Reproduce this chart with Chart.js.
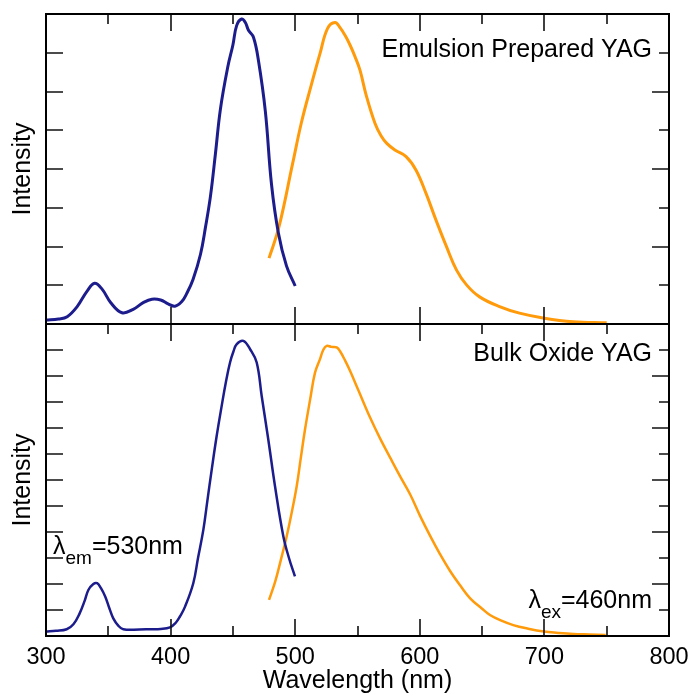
<!DOCTYPE html>
<html>
<head>
<meta charset="utf-8">
<script src="https://cdn.jsdelivr.net/npm/chart.js@4/dist/chart.umd.min.js"></script>
<style>
  html, body { margin: 0; padding: 0; background: #fff; }
  #wrap { position: relative; width: 692px; height: 697px; }
  #top { position: absolute; left: 0; top: 0; }
  #bottom { position: absolute; left: 0; top: 314px; }
</style>
</head>
<body>
<div id="wrap">
  <canvas id="top" width="692" height="330"></canvas>
  <canvas id="bottom" width="692" height="383"></canvas>
</div>
<script>
// emulsion prepared YAG (top panel)
const emulExWl = [300, 310, 317, 325, 333, 339, 345, 352, 361, 370, 378, 385, 392, 398, 403.5, 409, 413, 418, 424, 428, 432, 436, 440, 446, 450, 453, 457, 460, 462.5, 466.5, 470.5, 476, 481, 486.5, 493, 500]
const emulExVal = [0.10, 0.13, 0.19, 0.45, 0.85, 1.05, 0.90, 0.55, 0.29, 0.38, 0.55, 0.64, 0.62, 0.52, 0.46, 0.58, 0.79, 1.15, 1.80, 2.5, 3.3, 4.4, 5.55, 6.65, 7.2, 7.7, 7.87, 7.78, 7.58, 7.40, 6.8, 5.5, 3.6, 2.35, 1.5, 0.98]
const emulEmWl = [479, 487, 498, 505, 512.5, 520, 526, 532, 536, 540, 544, 548, 552, 557, 564, 569, 573.5, 580, 589, 597, 605, 613, 621.5, 629.5, 637.5, 648, 664, 680, 700, 723, 750]
const emulEmVal = [1.70, 2.51, 4.15, 5.2, 6.12, 6.99, 7.63, 7.78, 7.65, 7.45, 7.2, 6.9, 6.55, 5.9, 5.18, 4.85, 4.66, 4.49, 4.32, 3.97, 3.37, 2.68, 1.99, 1.39, 1.01, 0.70, 0.45, 0.28, 0.15, 0.06, 0.03]

// bulk oxide YAG (bottom panel)
const bulkExWl = [300, 308, 316.6, 322, 327, 331, 334, 338, 341, 344, 347.5, 351, 354, 358, 362, 375, 383.5, 392, 399.5, 404, 407.5, 411.6, 418.2, 422, 426.3, 429.5, 433, 437, 441, 444.5, 447.7, 450.5, 453.1, 458.4, 463.8, 469.1, 473.1, 478.4, 483.8, 490.5, 495, 499.8]
const bulkExVal = [0.17, 0.20, 0.26, 0.45, 0.87, 1.35, 1.77, 2.0, 2.03, 1.85, 1.52, 1.05, 0.68, 0.40, 0.26, 0.25, 0.26, 0.27, 0.33, 0.5, 0.75, 1.13, 2.03, 3.0, 4.09, 5.2, 6.40, 7.7, 8.85, 9.8, 10.52, 10.95, 11.23, 11.35, 11.03, 10.52, 9.23, 7.56, 5.76, 3.83, 3.0, 2.29]
const bulkEmWl = [479, 484, 488.5, 493, 497, 501.2, 504.5, 507.9, 512, 515.9, 519.9, 522.5, 525.3, 529, 533.3, 536, 540, 544, 550.7, 560.1, 568.1, 576.2, 584.1, 592.2, 600.2, 608.3, 616.2, 624.3, 632.3, 640.4, 650, 656.3, 665, 675, 687, 699.6, 711, 723.2, 736, 749.2]
const bulkEmVal = [1.39, 2.1, 2.93, 3.8, 4.7, 5.76, 6.85, 7.95, 9.1, 10.13, 10.65, 11.0, 11.16, 11.12, 11.10, 10.95, 10.6, 10.2, 9.45, 8.4, 7.6, 6.86, 6.15, 5.45, 4.62, 3.85, 3.15, 2.5, 1.95, 1.45, 1.05, 0.81, 0.6, 0.42, 0.28, 0.17, 0.12, 0.08, 0.06, 0.04]

const xTicks = [300, 400, 500, 600, 700, 800]
const xMinorTicks = [350, 450, 550, 650, 750]

const NAVY = "#1c1c8c"
const ORANGE = "#ff9a0a"
const FONT = "'Liberation Sans', Arial, Helvetica, sans-serif"

function pts(xs, ys) {
  return xs.map((x, i) => ({ x: x, y: ys[i] }))
}

function line(xs, ys, color, width) {
  return {
    data: pts(xs, ys),
    borderColor: color,
    borderWidth: width,
    pointRadius: 0,
    tension: 0.4,
    fill: false,
  }
}

// box round the panel with inward ticks, plus the panel texts
const frame = {
  id: "frame",
  afterDatasetsDraw(chart, args, opts) {
    const { ctx, chartArea: a, scales } = chart
    const x = scales.x, y = scales.y
    ctx.save()
    ctx.strokeStyle = "#111"
    ctx.lineWidth = 1.6
    ctx.beginPath()
    xTicks.forEach((v) => {
      const px = Math.round(x.getPixelForValue(v))
      ctx.moveTo(px, a.top); ctx.lineTo(px, a.top + 17)
      ctx.moveTo(px, a.bottom); ctx.lineTo(px, a.bottom - 17)
    })
    xMinorTicks.forEach((v) => {
      const px = Math.round(x.getPixelForValue(v))
      ctx.moveTo(px, a.top); ctx.lineTo(px, a.top + 10)
      if (opts.bottomMinor) { ctx.moveTo(px, a.bottom); ctx.lineTo(px, a.bottom - 10) }
    })
    for (let v = y.min + 1; v < y.max; v++) {
      const py = Math.round(y.getPixelForValue(v))
      ctx.moveTo(a.left, py); ctx.lineTo(a.left + 17, py)
      ctx.moveTo(a.right, py); ctx.lineTo(a.right - (v % 2 === 0 ? 17 : 10), py)
    }
    ctx.stroke()
    ctx.lineWidth = 2
    ctx.strokeStyle = "#000"
    ctx.strokeRect(a.left, a.top, a.right - a.left, a.bottom - a.top)

    ctx.fillStyle = "#000"
    ctx.textBaseline = "alphabetic"
    ctx.font = "25px " + FONT
    ctx.textAlign = "right"
    ctx.fillText(opts.title, a.right - 17, a.top + opts.titleDy)
    if (opts.lambda) {
      opts.lambda.forEach((l) => {
        ctx.font = "25px " + FONT
        const w1 = ctx.measureText("λ").width
        const w3 = ctx.measureText(l.rest).width
        ctx.font = "19px " + FONT
        const w2 = ctx.measureText(l.sub).width
        const x0 = l.align === "right" ? a.right - l.dx - (w1 + w2 + w3) : a.left + l.dx
        const by = a.bottom - l.dy
        ctx.textAlign = "left"
        ctx.font = "25px " + FONT
        ctx.fillText("λ", x0, by)
        ctx.font = "19px " + FONT
        ctx.fillText(l.sub, x0 + w1, by + 10)
        ctx.font = "25px " + FONT
        ctx.fillText(l.rest, x0 + w1 + w2, by)
      })
    }
    ctx.restore()
  },
}

function yScale(max) {
  return {
    type: "linear",
    min: 0,
    max: max,
    ticks: { display: false },
    grid: { display: false },
    border: { display: false },
    title: {
      display: true,
      text: "Intensity",
      color: "#000",
      font: { family: FONT, size: 25 },
      padding: { top: 8, bottom: 0 },
    },
    afterFit(scale) { scale.width = 46 },
  }
}

new Chart(document.getElementById("top"), {
  type: "line",
  data: {
    datasets: [
      line(emulExWl, emulExVal, NAVY, 3),
      line(emulEmWl, emulEmVal, ORANGE, 3),
    ],
  },
  options: {
    responsive: false,
    animation: false,
    layout: { padding: { top: 14, right: 23, bottom: 6, left: 0 } },
    scales: {
      x: { type: "linear", min: 300, max: 800, display: false },
      y: yScale(8),
    },
    plugins: {
      legend: { display: false },
      tooltip: { enabled: false },
      frame: { title: "Emulsion Prepared YAG", titleDy: 43, bottomMinor: false },
    },
  },
  plugins: [frame],
})

new Chart(document.getElementById("bottom"), {
  type: "line",
  data: {
    datasets: [
      line(bulkExWl, bulkExVal, NAVY, 2.5),
      line(bulkEmWl, bulkEmVal, ORANGE, 2.5),
    ],
  },
  options: {
    responsive: false,
    animation: false,
    layout: { padding: { top: 10, right: 23, bottom: 0, left: 0 } },
    scales: {
      x: {
        type: "linear",
        min: 300,
        max: 800,
        afterBuildTicks(scale) { scale.ticks = xTicks.map((v) => ({ value: v })) },
        ticks: { color: "#000", font: { family: FONT, size: 23.5 }, padding: 7, maxRotation: 0 },
        grid: { display: false, drawTicks: false },
        border: { display: false },
        title: {
          display: true,
          text: "Wavelength (nm)",
          color: "#000",
          font: { family: FONT, size: 25 },
          padding: { top: 0, bottom: 1 },
        },
        afterFit(scale) {
          scale.height = 61
          scale.paddingLeft = 0
          scale.paddingRight = 0
        },
      },
      y: yScale(12),
    },
    plugins: {
      legend: { display: false },
      tooltip: { enabled: false },
      frame: {
        title: "Bulk Oxide YAG",
        titleDy: 37,
        bottomMinor: true,
        lambda: [
          { sub: "em", rest: "=530nm", dx: 7, dy: 82, align: "left" },
          { sub: "ex", rest: "=460nm", dx: 17, dy: 28, align: "right" },
        ],
      },
    },
  },
  plugins: [frame],
})
</script>
</body>
</html>
